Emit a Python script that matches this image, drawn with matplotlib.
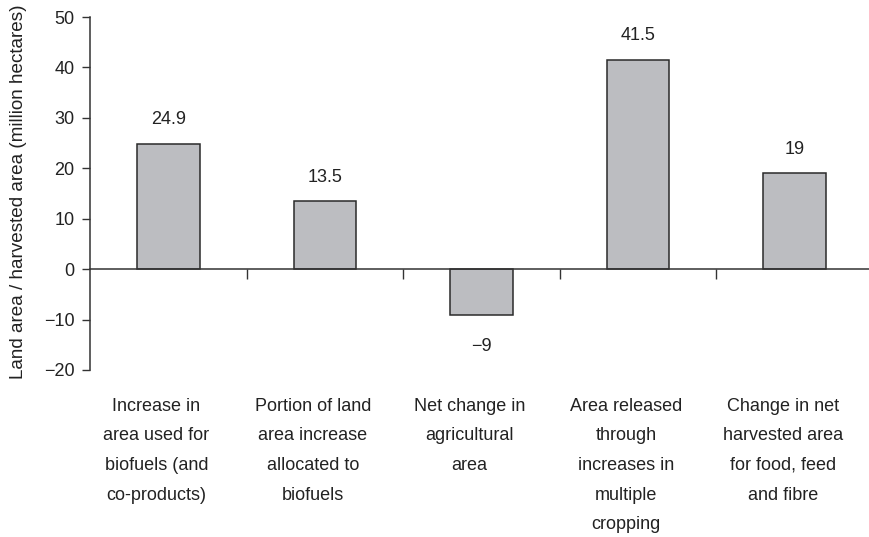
import matplotlib
matplotlib.use("Agg")
import matplotlib.pyplot as plt
import matplotlib.transforms as mtransforms

categories = [
    "Increase in\narea used for\nbiofuels (and\nco-products)",
    "Portion of land\narea increase\nallocated to\nbiofuels",
    "Net change in\nagricultural\narea",
    "Area released\nthrough\nincreases in\nmultiple\ncropping",
    "Change in net\nharvested area\nfor food, feed\nand fibre",
]
values = [24.9, 13.5, -9, 41.5, 19]
value_labels = ["24.9", "13.5", "\u22129", "41.5", "19"]
yticks = [-20, -10, 0, 10, 20, 30, 40, 50]
ylabel = "Land area / harvested area (million hectares)"

plt.rcParams["font.family"] = ["Liberation Sans", "DejaVu Sans"]
FS = 13
TXT = "#222222"

W, H = 869, 537
fig = plt.figure(figsize=(W / 100, H / 100), dpi=100)
ax = fig.add_axes([90 / W, 1 - 370 / H, 783 / W, 353 / H])

x = list(range(len(values)))
ax.bar(x, values, width=0.4, color="#bcbdc1", edgecolor="#2a2a2a", linewidth=1.1, zorder=3)

ax.set_xlim(-0.5, len(values) - 0.5)
ax.set_ylim(-20, 50)
ax.set_yticks(yticks)
ax.set_yticklabels([f"{t}".replace("-", "\u2212") for t in yticks], fontsize=FS, color=TXT)
ax.tick_params(axis="y", direction="out", length=6, width=1, color="#333333", pad=5)

for s in ["top", "right"]:
    ax.spines[s].set_visible(False)
ax.spines["left"].set_color("#333333")
ax.spines["left"].set_linewidth(1.1)
ax.spines["bottom"].set_position(("data", 0))
ax.spines["bottom"].set_color("#333333")
ax.spines["bottom"].set_linewidth(1.1)
ax.spines["bottom"].set_zorder(4)

ax.set_xticks([i + 0.5 for i in x[:-1]])
ax.set_xticklabels([])
ax.tick_params(axis="x", direction="out", length=7, width=1, color="#333333")

trans = mtransforms.blended_transform_factory(ax.transData, ax.transAxes) + \
    mtransforms.ScaledTranslation(-12 / 100, -3 / 100, fig.dpi_scale_trans)
for i, c in zip(x, categories):
    ax.text(i, -0.07, c, transform=trans, ha="center", va="top", fontsize=FS,
            color=TXT, linespacing=1.97)

for i, v, lab in zip(x, values, value_labels):
    off = 24 if v >= 0 else -32
    ax.annotate(lab, (i, v), xytext=(0, off), textcoords="offset pixels",
                ha="center", va="center", fontsize=FS, color=TXT)

fig.text(19 / W, 1 - 192 / H, ylabel, rotation=90, ha="center", va="center",
         fontsize=13.6, color=TXT)

fig.savefig("out.png", dpi=100)
